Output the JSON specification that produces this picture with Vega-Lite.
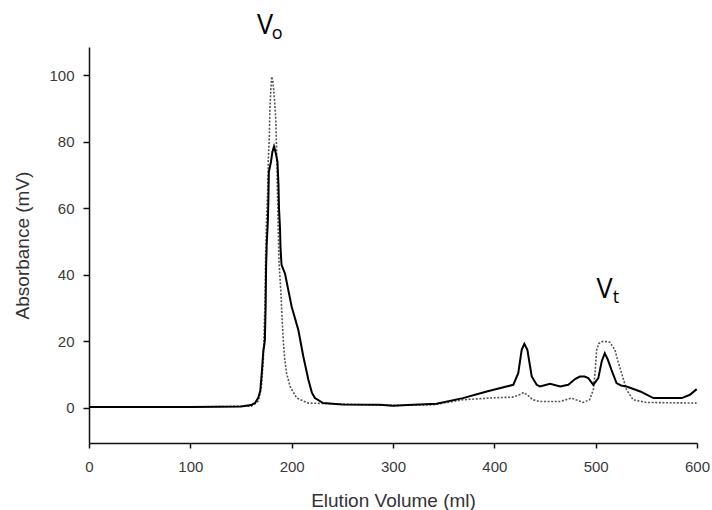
{
  "$schema": "https://vega.github.io/schema/vega-lite/v6.json",
  "width": 608,
  "height": 396,
  "autosize": {"type": "none"},
  "padding": {"left": 89, "top": 47, "right": 15, "bottom": 67},
  "background": "white",
  "config": {
    "view": {"stroke": null},
    "axis": {
      "grid": false,
      "domainColor": "#111",
      "domainWidth": 1.5,
      "tickColor": "#111",
      "tickWidth": 1.5,
      "labelFont": "Liberation Sans",
      "labelFontSize": 15,
      "labelColor": "#3a3a3a",
      "titleFont": "Liberation Sans",
      "titleFontSize": 19,
      "titleFontWeight": "normal",
      "titleColor": "#333"
    }
  },
  "datasets": {
    "solid": [
      {"v": 0, "a": 0.2}, {"v": 50, "a": 0.2}, {"v": 100, "a": 0.2}, {"v": 150, "a": 0.4},
      {"v": 160, "a": 0.8}, {"v": 164, "a": 1.5}, {"v": 167, "a": 3}, {"v": 169, "a": 5},
      {"v": 170.5, "a": 10.5}, {"v": 172, "a": 17}, {"v": 173.5, "a": 20}, {"v": 174.3, "a": 30},
      {"v": 174.8, "a": 43}, {"v": 175.5, "a": 50}, {"v": 176.5, "a": 56}, {"v": 177, "a": 62},
      {"v": 177.5, "a": 71}, {"v": 179.6, "a": 74}, {"v": 181, "a": 77}, {"v": 182.6, "a": 78.6},
      {"v": 184, "a": 77}, {"v": 186, "a": 74}, {"v": 187, "a": 67}, {"v": 187.5, "a": 60},
      {"v": 188.5, "a": 54}, {"v": 189, "a": 48}, {"v": 190, "a": 43}, {"v": 193.4, "a": 40.4},
      {"v": 200, "a": 30.4}, {"v": 206.6, "a": 23.4}, {"v": 211.5, "a": 15.4}, {"v": 216.5, "a": 8.4},
      {"v": 220, "a": 4.5}, {"v": 223, "a": 2.9}, {"v": 231, "a": 1.4}, {"v": 250, "a": 1.0},
      {"v": 287, "a": 0.9}, {"v": 300, "a": 0.6}, {"v": 320, "a": 0.9}, {"v": 343, "a": 1.2},
      {"v": 369, "a": 2.9}, {"v": 392.5, "a": 4.9}, {"v": 412, "a": 6.4}, {"v": 418.7, "a": 6.9},
      {"v": 423.6, "a": 10.4}, {"v": 427, "a": 17.4}, {"v": 429.6, "a": 19.2}, {"v": 432.6, "a": 17.4},
      {"v": 436.9, "a": 9.4}, {"v": 441.8, "a": 6.9}, {"v": 445, "a": 6.4}, {"v": 455, "a": 7.2},
      {"v": 465, "a": 6.4}, {"v": 473, "a": 6.9}, {"v": 480, "a": 8.7}, {"v": 484.5, "a": 9.4},
      {"v": 489, "a": 9.4}, {"v": 492.7, "a": 8.9}, {"v": 497.7, "a": 6.9}, {"v": 502.6, "a": 8.9},
      {"v": 506, "a": 14}, {"v": 509, "a": 16.4}, {"v": 512, "a": 14.5}, {"v": 515.6, "a": 11.4},
      {"v": 520.6, "a": 7.4}, {"v": 525, "a": 6.7}, {"v": 530.5, "a": 6.4}, {"v": 544, "a": 4.9},
      {"v": 557, "a": 2.9}, {"v": 585, "a": 2.9}, {"v": 593, "a": 3.9}, {"v": 599.7, "a": 5.6}
    ],
    "dotted": [
      {"v": 0, "a": 0.2}, {"v": 100, "a": 0.2}, {"v": 160, "a": 0.5}, {"v": 164, "a": 1.2},
      {"v": 167, "a": 2}, {"v": 170, "a": 6}, {"v": 172, "a": 14}, {"v": 173.5, "a": 30},
      {"v": 174.3, "a": 45}, {"v": 175, "a": 55}, {"v": 176.3, "a": 65}, {"v": 177, "a": 75},
      {"v": 178, "a": 82}, {"v": 178.5, "a": 90}, {"v": 179.5, "a": 96}, {"v": 180.3, "a": 99.6},
      {"v": 181.5, "a": 98}, {"v": 183, "a": 93}, {"v": 184.3, "a": 87}, {"v": 185, "a": 79},
      {"v": 186, "a": 65}, {"v": 186.8, "a": 53}, {"v": 187.5, "a": 44}, {"v": 189.5, "a": 34},
      {"v": 190.5, "a": 27}, {"v": 191.8, "a": 20}, {"v": 193, "a": 15}, {"v": 195, "a": 10.4},
      {"v": 198.4, "a": 6.4}, {"v": 205, "a": 2.9}, {"v": 216.5, "a": 1.4}, {"v": 231, "a": 1.3},
      {"v": 260, "a": 1}, {"v": 300, "a": 0.7}, {"v": 340, "a": 0.9}, {"v": 369, "a": 2.4},
      {"v": 400, "a": 3}, {"v": 418, "a": 3.2}, {"v": 424, "a": 3.8}, {"v": 429, "a": 4.6},
      {"v": 434, "a": 3.5}, {"v": 438, "a": 2.4}, {"v": 445, "a": 1.9}, {"v": 465, "a": 1.9},
      {"v": 476, "a": 2.9}, {"v": 487.6, "a": 1.6}, {"v": 494, "a": 2.4}, {"v": 497.7, "a": 5.4},
      {"v": 499.5, "a": 11}, {"v": 501, "a": 17.4}, {"v": 503, "a": 19.3}, {"v": 506, "a": 19.9},
      {"v": 511, "a": 19.9}, {"v": 514, "a": 19.7}, {"v": 519, "a": 17.4}, {"v": 522, "a": 14},
      {"v": 525.6, "a": 10.4}, {"v": 530.5, "a": 5.4}, {"v": 537, "a": 2.4}, {"v": 550, "a": 1.6},
      {"v": 599.6, "a": 1.4}
    ],
    "mainLabels": [
      {"v": 173.7, "a": 112.4, "t": "V"},
      {"v": 508.7, "a": 32.9, "t": "V"}
    ],
    "subLabels": [
      {"v": 185.8, "a": 111.0, "t": "o"},
      {"v": 520.0, "a": 31.4, "t": "t"}
    ]
  },
  "encoding": {
    "x": {
      "field": "v", "type": "quantitative",
      "scale": {"domain": [0, 600], "nice": false, "zero": false},
      "axis": {"values": [0, 100, 200, 300, 400, 500, 600], "title": "Elution Volume (ml)", "tickSize": 5, "labelPadding": 11, "titlePadding": 17, "labelFlush": false}
    },
    "y": {
      "field": "a", "type": "quantitative",
      "scale": {"domain": [-10.6, 108.5], "nice": false, "zero": false},
      "axis": {"values": [0, 20, 40, 60, 80, 100], "title": "Absorbance (mV)", "tickSize": 6, "labelPadding": 9, "titlePadding": 16}
    }
  },
  "layer": [
    {
      "data": {"name": "dotted"},
      "mark": {"type": "line", "color": "#555", "strokeWidth": 1.6, "strokeDash": [2, 1.6]}
    },
    {
      "data": {"name": "solid"},
      "mark": {"type": "line", "color": "#000", "strokeWidth": 2}
    },
    {
      "data": {"name": "mainLabels"},
      "mark": {"type": "text", "font": "Open Sans", "fontSize": 27, "color": "#000", "baseline": "alphabetic", "align": "center"},
      "encoding": {"text": {"field": "t"}}
    },
    {
      "data": {"name": "subLabels"},
      "mark": {"type": "text", "font": "Open Sans", "fontSize": 18, "color": "#000", "baseline": "alphabetic", "align": "center"},
      "encoding": {"text": {"field": "t"}}
    }
  ]
}
